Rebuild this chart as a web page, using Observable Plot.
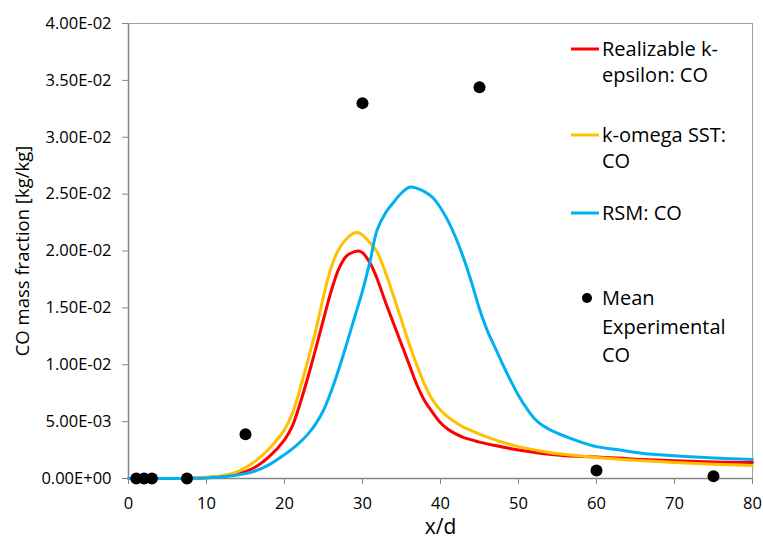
<!DOCTYPE html>
<html><head><meta charset="utf-8">
<script src="https://cdn.jsdelivr.net/npm/d3@7"></script>
<script src="https://cdn.jsdelivr.net/npm/@observablehq/plot@0.6"></script>
<style>
body{margin:0;background:#fff;} svg{display:block}
</style>
</head><body><div id="chart"></div>
<script>
// Realizable k-epsilon: CO
const rkeX = [0, 5, 8, 10, 12, 14, 16, 18, 20, 21, 22, 23, 24, 25, 26, 27, 28, 29, 29.5, 30, 31, 31.85, 33, 34, 35, 36, 37, 38, 39, 40, 41, 42, 43, 44, 45, 47, 50, 53, 56, 60, 65, 70, 75, 80];
const rkeY = [0, 0, 0.00002, 0.00008, 0.0002, 0.0004, 0.0009, 0.0019, 0.0034, 0.0046, 0.0066, 0.0089, 0.0114, 0.0140, 0.0165, 0.0185, 0.0196, 0.01995, 0.02, 0.01985, 0.0189, 0.0176, 0.0154, 0.0136, 0.0118, 0.0100, 0.0082, 0.0068, 0.0058, 0.0049, 0.0043, 0.0039, 0.0036, 0.0034, 0.0032, 0.0029, 0.0025, 0.0022, 0.0020, 0.0019, 0.0017, 0.00155, 0.00145, 0.0014];
// k-omega SST: CO
const sstX = [0, 5, 8, 10, 12, 14, 16, 18, 20, 21, 22, 23, 24, 25, 26, 27, 28, 29, 29.5, 30, 31, 31.85, 33, 34, 35, 36, 37, 38, 39, 40, 41, 42, 43, 44, 45, 47, 50, 53, 56, 60, 65, 70, 75, 80];
const sstY = [0, 0, 0.00003, 0.0001, 0.00025, 0.0006, 0.0014, 0.0026, 0.0043, 0.0057, 0.0079, 0.0104, 0.0130, 0.0160, 0.0186, 0.0202, 0.0211, 0.0216, 0.0216, 0.0214, 0.0207, 0.01995, 0.0180, 0.0160, 0.0139, 0.0118, 0.0099, 0.0082, 0.0069, 0.0060, 0.0054, 0.0049, 0.0045, 0.0042, 0.0039, 0.0034, 0.0028, 0.0024, 0.0021, 0.00185, 0.0016, 0.0014, 0.00125, 0.00115];
// RSM: CO
const rsmX = [0, 5, 8, 10, 12, 14, 16, 18, 20, 21, 22, 23, 24, 25, 26, 27, 28, 29, 30, 31, 31.85, 33, 34, 35, 36, 36.5, 37, 38, 39, 40, 41, 42, 43, 44, 45, 46, 47, 48, 49, 50, 51, 52, 53, 54, 56, 58, 60, 63, 66, 70, 75, 80];
const rsmY = [0, 0, 0.00001, 0.00004, 0.00015, 0.0003, 0.0006, 0.0012, 0.0021, 0.0026, 0.0032, 0.0039, 0.0048, 0.0060, 0.0077, 0.0097, 0.0119, 0.0142, 0.0165, 0.0192, 0.0218, 0.0234, 0.0243, 0.0251, 0.0256, 0.0256, 0.0255, 0.0252, 0.0247, 0.0238, 0.0226, 0.0211, 0.0193, 0.0172, 0.0149, 0.0130, 0.0115, 0.0100, 0.0086, 0.0073, 0.0062, 0.0053, 0.0047, 0.0043, 0.0037, 0.0032, 0.0028, 0.0025, 0.0022, 0.0020, 0.0018, 0.00167];
// Mean Experimental CO
const expX = [1, 2, 3, 7.5, 15, 30, 45, 60, 75];
const expY = [0, 0, 0, 0, 0.0039, 0.0330, 0.0344, 0.0007, 0.0002];

const xTicks = [0, 10, 20, 30, 40, 50, 60, 70, 80];
const yTicks = [0, 0.005, 0.01, 0.015, 0.02, 0.025, 0.03, 0.035, 0.04];

const seriesNames = ["Realizable k-epsilon: CO", "k-omega SST: CO", "RSM: CO"];
const seriesColors = ["#FF0000", "#FFC000", "#00B0F0"];

const toRows = (xs, ys) => xs.map((x, i) => ({x, y: ys[i]}));
const rke = toRows(rkeX, rkeY);
const sst = toRows(sstX, sstY);
const rsm = toRows(rsmX, rsmY);
const exp = toRows(expX, expY);

function sci(d) {
  const [m, e] = d.toExponential(2).split("e");
  const sign = e[0] === "-" ? "-" : "+";
  return m + "E" + sign + String(Math.abs(+e)).padStart(2, "0");
}

const axisGray = "#868686";
const chart = Plot.plot({
  width: 763, height: 543,
  marginLeft: 128, marginRight: 11, marginTop: 23, marginBottom: 65,
  style: {fontFamily: "'Open Sans', sans-serif", fontSize: "16px", color: "#000", background: "#fff"},
  x: {domain: [0, 80]},
  y: {domain: [0, 0.04]},
  marks: [
    Plot.frame({stroke: "#a0a0a0", strokeWidth: 1}),
    Plot.axisX({ticks: xTicks, tickSize: 6, stroke: axisGray, label: null, tickFormat: () => ""}),
    Plot.axisY({ticks: yTicks, tickSize: 6, stroke: axisGray, label: null, tickFormat: () => ""}),
    Plot.text(xTicks, {x: d => d, y: () => 0, text: d => String(d), dy: 25, fontSize: 16.5, fill: "#000", textAnchor: "middle"}),
    Plot.text(yTicks, {x: () => 0, y: d => d, text: sci, dx: -17, fontSize: 16.5, fill: "#000", textAnchor: "end"}),
    Plot.ruleY([0], {stroke: axisGray, strokeWidth: 1.5}),
    Plot.ruleX([0], {stroke: axisGray, strokeWidth: 1.5}),
    Plot.line(rke, {x: "x", y: "y", stroke: seriesColors[0], strokeWidth: 3, curve: "catmull-rom"}),
    Plot.line(sst, {x: "x", y: "y", stroke: seriesColors[1], strokeWidth: 3, curve: "catmull-rom"}),
    Plot.line(rsm, {x: "x", y: "y", stroke: seriesColors[2], strokeWidth: 3, curve: "catmull-rom"}),
    Plot.dot(exp, {x: "x", y: "y", r: 6, fill: "#000", stroke: "none"}),
    Plot.text(["x/d"], {frameAnchor: "bottom", dy: 55, fontSize: 21, fill: "#000", textAnchor: "middle"}),
    Plot.text(["CO mass fraction [kg/kg]"], {frameAnchor: "left", dx: -105, rotate: -90, fontSize: 18.5, fill: "#000", textAnchor: "middle"})
  ]
});
document.getElementById("chart").appendChild(chart);

// Legend (inside plot area, top-right)
const svg = d3.select(chart);
const lg = svg.append("g").attr("font-family", "'Open Sans', sans-serif").attr("font-size", 20)
  .attr("fill", "#000").attr("text-anchor", "start");
const legendLines = [["Realizable k-", "epsilon: CO"], ["k-omega SST:", "CO"], ["RSM: CO"]];
const legendY = [49, 135, 213];
legendLines.forEach((lines, i) => {
  lg.append("line").attr("x1", 571).attr("x2", 599).attr("y1", legendY[i]).attr("y2", legendY[i])
    .attr("stroke", seriesColors[i]).attr("stroke-width", 3);
  lines.forEach((t, j) => {
    lg.append("text").attr("x", 602).attr("y", legendY[i] + j * 26).attr("dy", "0.35em").text(t);
  });
});
lg.append("circle").attr("cx", 587).attr("cy", 298).attr("r", 5).attr("fill", "#000");
["Mean", "Experimental", "CO"].forEach((t, j) => {
  lg.append("text").attr("x", 602).attr("y", 298 + j * 28.5).attr("dy", "0.35em").text(t);
});
</script>
</body></html>
